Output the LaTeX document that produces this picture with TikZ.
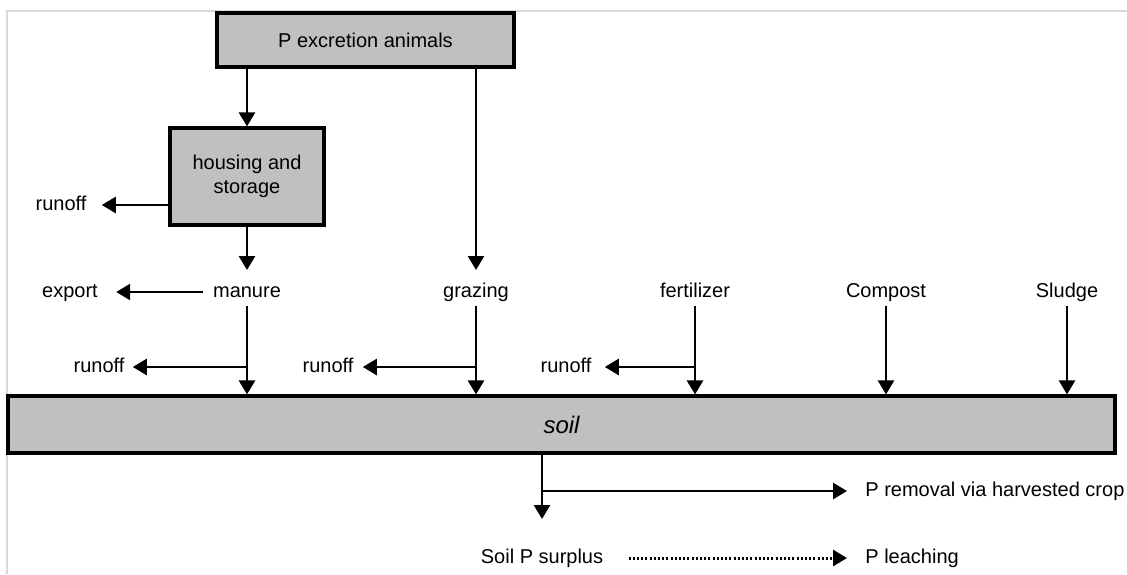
\documentclass[tikz,border=0pt]{standalone}
\usepackage{fontspec}
\setmainfont{Liberation Sans}
\usetikzlibrary{arrows.meta}
\definecolor{boxgray}{RGB}{192,192,192}
\definecolor{framegray}{RGB}{217,217,217}
\tikzset{
  boxnode/.style={draw=black, fill=boxgray, line width=1.6pt, inner sep=0pt, align=center, font=\fontsize{10pt}{12pt}\selectfont},
  lbl/.style={inner sep=0pt, text height=7.2pt, text depth=2.1pt, font=\fontsize{10pt}{12pt}\selectfont},
  arr/.style={line width=1.35pt, -{Triangle[length=7pt,width=8pt]}},
  dotarr/.style={line width=1.5pt, dash pattern=on 1pt off 1.1pt, -{Triangle[length=7pt,width=8pt]}},
}
\begin{document}
\begin{tikzpicture}[x=0.5pt,y=-0.5pt]
\useasboundingbox (0,0) rectangle (1127,574);
% light frame
\draw[framegray, line width=1pt] (1127,11) -- (7,11) -- (7,574);

% boxes
\node[boxnode, minimum width=148.5pt, minimum height=27pt] (pex) at (365.5,40) {P excretion animals};
\node[boxnode, minimum width=77pt, minimum height=48.5pt] (house) at (247,176.5) {housing and\\storage};
\node[boxnode, minimum width=553.5pt, minimum height=28.5pt, font=\fontsize{12pt}{14pt}\selectfont\itshape] (soil) at (561.5,424.5) {soil};

% labels
\node[lbl] (roA) at (61,205) {runoff};
\node[lbl] (export) at (70,292) {export};
\node[lbl] (manure) at (247,292) {manure};
\node[lbl] (grazing) at (476,292) {grazing};
\node[lbl] (fert) at (695,292) {fertilizer};
\node[lbl] (compost) at (886,292) {Compost};
\node[lbl] (sludge) at (1067,292) {Sludge};
\node[lbl] (ro1) at (99,367) {runoff};
\node[lbl] (ro2) at (328,367) {runoff};
\node[lbl] (ro3) at (566,367) {runoff};
\node[lbl] (surplus) at (542,558) {Soil P surplus};
\node[lbl, anchor=west] (removal) at (865,491) {P removal via harvested crop};
\node[lbl, anchor=west] (leaching) at (865,558) {P leaching};

% top part
\draw[arr] (pex.south -| house.north) -- (house.north);
\draw[arr] (pex.south -| grazing.center) -- ([yshift=11pt]grazing.center);
\draw[arr] (house.west |- roA.center) -- ([xshift=7.5pt]roA.east);
\draw[arr] (house.south) -- ([yshift=11pt]manure.center);
\draw[arr] ([xshift=-5pt]manure.west) -- ([xshift=9pt]export.east);

% inputs to soil
\draw[arr] ([yshift=-7pt]manure.center) -- (manure.center |- soil.north);
\draw[arr] (manure.center |- ro1.center) -- ([xshift=4pt]ro1.east);
\draw[arr] ([yshift=-7pt]grazing.center) -- (grazing.center |- soil.north);
\draw[arr] (grazing.center |- ro2.center) -- ([xshift=4.5pt]ro2.east);
\draw[arr] ([yshift=-7pt]fert.center) -- (fert.center |- soil.north);
\draw[arr] (fert.center |- ro3.center) -- ([xshift=6.5pt]ro3.east);
\draw[arr] ([yshift=-7pt]compost.center) -- (compost.center |- soil.north);
\draw[arr] ([yshift=-7pt]sludge.center) -- (sludge.center |- soil.north);

% outputs
\draw[arr] (soil.south -| surplus.center) -- ([yshift=19.5pt]surplus.center);
\draw[arr] (surplus.center |- removal.west) -- ([xshift=-9pt]removal.west);
\draw[dotarr] ([xshift=12.5pt]surplus.east) -- ([xshift=-9pt]leaching.west);
\end{tikzpicture}
\end{document}
